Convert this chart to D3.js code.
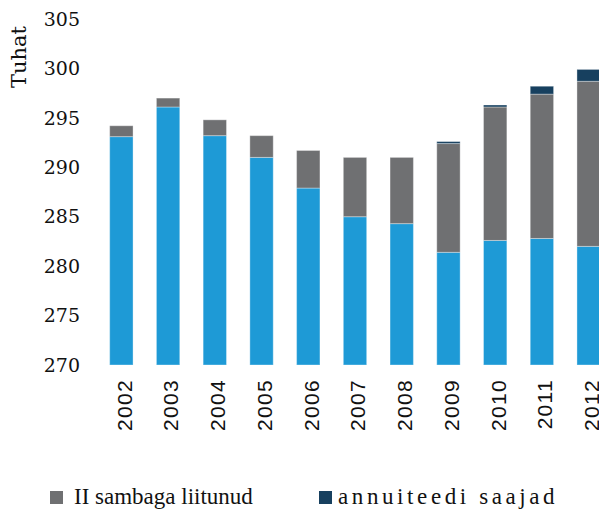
<!DOCTYPE html>
<html>
<head>
<meta charset="utf-8">
<script src="https://cdn.jsdelivr.net/npm/d3@7/dist/d3.min.js"></script>
<style>
  html, body { margin: 0; padding: 0; background: #fff; }
  svg { display: block; }
  .tick-label { font-family: "DejaVu Serif", Georgia, serif; font-size: 19px; fill: #111; }
  .axis-title { font-family: "DejaVu Serif", Georgia, serif; font-size: 21px; fill: #111; }
  .year-label { font-family: "Liberation Sans", Arial, sans-serif; font-size: 21px; fill: #111; letter-spacing: 1.3px; }
  .legend-label { font-family: "Liberation Serif", Georgia, serif; font-size: 23px; fill: #111; }
</style>
</head>
<body>
<div id="chart"></div>
<script>
const years = ["2002", "2003", "2004", "2005", "2006", "2007", "2008", "2009", "2010", "2011", "2012"];
// blue base (not in legend), grey = II sambaga liitunud, navy = annuiteedi saajad (thousands)
const baseValues = [293.1, 296.1, 293.2, 291.0, 287.9, 285.0, 284.3, 281.4, 282.6, 282.8, 282.0];
const pillarValues = [1.1, 0.9, 1.6, 2.2, 3.8, 6.0, 6.7, 11.0, 13.5, 14.6, 16.7];
const annuityValues = [0, 0, 0, 0, 0, 0, 0, 0.2, 0.2, 0.8, 1.2];
const yTicks = [270, 275, 280, 285, 290, 295, 300, 305];

const keys = ["base", "pillar", "annuity"];
const colors = { base: "#1e9ad6", pillar: "#6f7072", annuity: "#17405f" };
const legendItems = [
  { key: "pillar", label: "II sambaga liitunud", spacing: 0 },
  { key: "annuity", label: "annuiteedi saajad", spacing: 3.6 }
];

const table = years.map((y, i) => ({
  year: y, base: baseValues[i], pillar: pillarValues[i], annuity: annuityValues[i]
}));

const W = 599, H = 514;
const svg = d3.select("#chart").append("svg")
  .attr("width", W).attr("height", H);

const x = d3.scaleBand()
  .domain(years)
  .range([98, 612])
  .paddingInner(0.5)
  .paddingOuter(0.25);

const y = d3.scaleLinear()
  .domain([270, 305])
  .range([365, 19]);

const series = d3.stack().keys(keys)(table);

// bars
svg.append("g").selectAll("g")
  .data(series)
  .join("g")
  .attr("fill", d => colors[d.key])
  .selectAll("rect")
  .data(d => d.filter(p => p[1] - p[0] > 0))
  .join("rect")
  .attr("x", d => x(d.data.year))
  .attr("width", x.bandwidth())
  .attr("y", d => y(d[1]))
  .attr("height", d => y(Math.max(d[0], 270)) - y(d[1]))
  .attr("stroke", "#fff")
  .attr("stroke-opacity", 0.35)
  .attr("stroke-width", 1);

// y tick labels (no axis line)
svg.append("g").selectAll("text")
  .data(yTicks)
  .join("text")
  .attr("class", "tick-label")
  .attr("x", 80)
  .attr("y", d => y(d))
  .attr("dy", "0.35em")
  .attr("text-anchor", "end")
  .text(d => d);

svg.append("text")
  .attr("class", "axis-title")
  .attr("transform", "translate(26,57) rotate(-90)")
  .attr("text-anchor", "middle")
  .text("Tuhat");

// year labels
svg.append("g").selectAll("text")
  .data(years)
  .join("text")
  .attr("class", "year-label")
  .attr("transform", d => `translate(${x(d) + x.bandwidth() / 2 + 3},379) rotate(-90)`)
  .attr("dy", "0.35em")
  .attr("text-anchor", "end")
  .text(d => d);

// legend
const legendX = [50, 319];
const lg = svg.append("g").selectAll("g")
  .data(legendItems)
  .join("g")
  .attr("transform", (d, i) => `translate(${legendX[i]},491)`);

lg.append("rect")
  .attr("width", 13).attr("height", 13)
  .attr("fill", d => colors[d.key]);

lg.append("text")
  .attr("class", "legend-label")
  .attr("x", d => d.spacing ? 19 : 24)
  .attr("y", 13)
  .style("letter-spacing", d => d.spacing + "px")
  .text(d => d.label);
</script>
</body>
</html>
